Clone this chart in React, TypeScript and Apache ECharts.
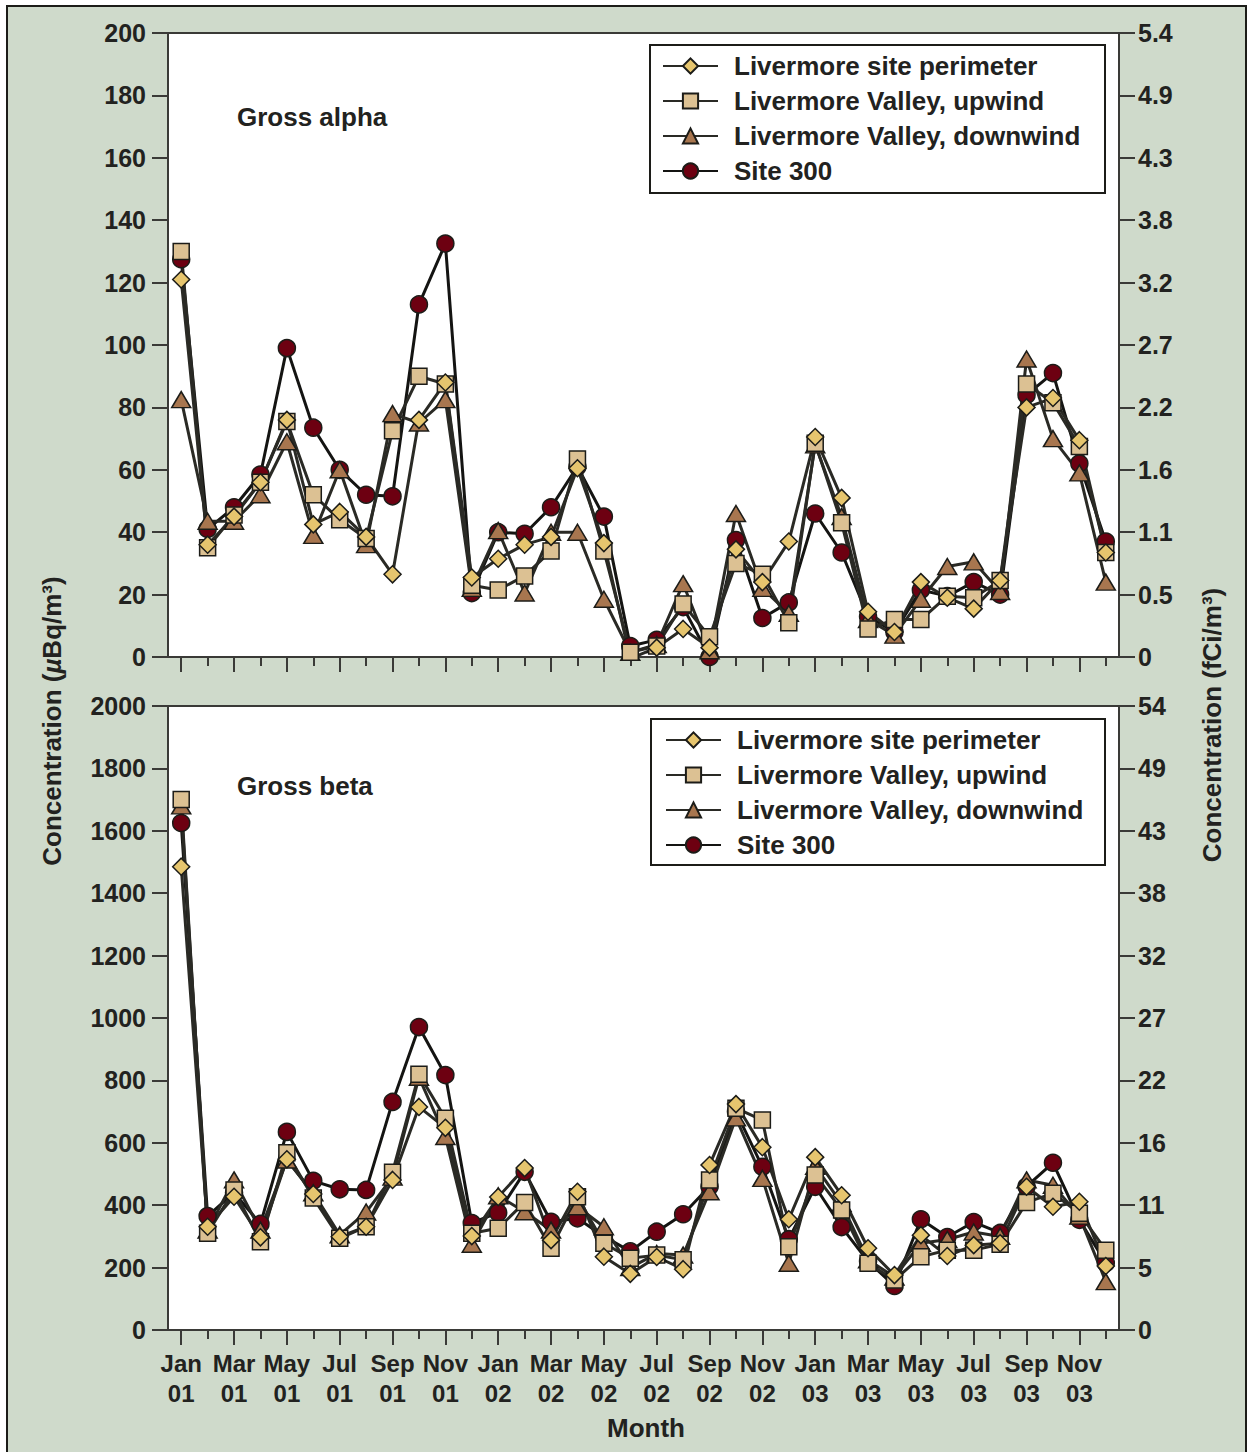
import React, { useEffect, useRef } from 'react';
import * as echarts from 'echarts';

const months = [
  'Jan 01', 'Feb 01', 'Mar 01', 'Apr 01', 'May 01', 'Jun 01', 'Jul 01', 'Aug 01', 'Sep 01', 'Oct 01', 'Nov 01', 'Dec 01',
  'Jan 02', 'Feb 02', 'Mar 02', 'Apr 02', 'May 02', 'Jun 02', 'Jul 02', 'Aug 02', 'Sep 02', 'Oct 02', 'Nov 02', 'Dec 02',
  'Jan 03', 'Feb 03', 'Mar 03', 'Apr 03', 'May 03', 'Jun 03', 'Jul 03', 'Aug 03', 'Sep 03', 'Oct 03', 'Nov 03', 'Dec 03',
];

const seriesNames = [
  'Livermore site perimeter',
  'Livermore Valley, upwind',
  'Livermore Valley, downwind',
  'Site 300',
];

// Gross alpha (µBq/m³)
const alphaPerimeter = [121, 36, 45, 56, 76, 42.5, 46.5, 38.5, 26.5, 76, 88, 25.5, 31.5, 36, 38.5, 60.5, 36.5, -0.5, 3, 9, 3, 34.5, 24, 37, 70.5, 51, 14.5, 8, 24, 19, 15.5, 24.5, 80, 83, 69.5, 33.5];
const alphaUpwind = [130, 35, 45.5, 56, 75.5, 52, 44, 38, 72.5, 90, 87.5, 23, 21.5, 26, 34, 63.5, 34, 1.5, 3.5, 17, 6.5, 30, 26.5, 11, 68.5, 43, 9, 12, 12, 19.5, 19, 24.5, 87.5, 81.5, 67.5, 33.5];
const alphaDownwind = [82.5, 43.5, 43.5, 52, 69, 39, 60, 36, 78, 75, 82.5, 22, 40.5, 20.5, 40, 40, 18.5, 1.5, 4, 23.5, 2, 46, 22, 14, 68, 45, 12, 7, 18.5, 29, 30.5, 21, 95.5, 70, 59, 24];
const alphaSite300 = [127.5, 41, 48, 58.5, 99, 73.5, 60, 52, 51.5, 113, 132.5, 20.5, 40, 39.5, 48, 61, 45, 3.5, 5.5, 16, 0, 37.5, 12.5, 17.5, 46, 33.5, 13, 8, 21.5, 19.5, 24, 20, 84, 91, 62, 37];

// Gross beta (µBq/m³)
const betaPerimeter = [1485, 331, 427, 297, 547, 436, 299, 331, 481, 715, 648, 301, 426, 519, 288, 443, 235, 180, 234, 195, 529, 724, 586, 355, 554, 432, 262, 176, 304, 237, 272, 278, 459, 395, 411, 205];
const betaUpwind = [1700, 310, 449, 283, 568, 423, 294, 331, 506, 820, 679, 310, 326, 409, 262, 427, 278, 230, 240, 225, 481, 711, 673, 267, 497, 385, 214, 160, 235, 256, 256, 275, 409, 438, 374, 256];
const betaDownwind = [1680, 320, 481, 320, 545, 440, 305, 378, 490, 810, 620, 275, 430, 379, 320, 395, 331, 200, 245, 240, 443, 680, 486, 214, 525, 405, 225, 170, 278, 290, 314, 300, 481, 464, 365, 155];
const betaSite300 = [1625, 365, 440, 340, 635, 478, 451, 449, 731, 971, 817, 343, 376, 507, 347, 358, 300, 252, 315, 371, 460, 700, 523, 291, 459, 330, 220, 141, 355, 298, 346, 311, 460, 536, 353, 215];

// Right-hand (fCi/m³) tick labels
const alphaRightLabels = ['0', '0.5', '1.1', '1.6', '2.2', '2.7', '3.2', '3.8', '4.3', '4.9', '5.4'];
const betaRightLabels = ['0', '5', '11', '16', '22', '27', '32', '38', '43', '49', '54'];

const FONT = '"Liberation Sans", Arial, Helvetica, sans-serif';
const TXT = '#222220';
const AX = '#3a3a37';
const LINE = '#2a2a25';
const EDGE = '#1c1c18';

const marks = [
  { symbol: 'diamond', size: 17, fill: '#e6c56e' },
  { symbol: 'rect', size: 16, fill: '#dcc193' },
  { symbol: 'triangle', size: [19, 16], fill: '#a8764f' },
  { symbol: 'circle', size: 17, fill: '#6d0011' },
];

function makeSeries(values: number[][], xIdx: number, yIdx: number) {
  // draw order: circle, triangle, square, diamond (diamond on top)
  const order = [3, 2, 1, 0];
  return order.map((k) => ({
    type: 'line',
    name: seriesNames[k],
    data: values[k],
    xAxisIndex: xIdx,
    yAxisIndex: yIdx,
    symbol: marks[k].symbol,
    symbolSize: marks[k].size,
    showAllSymbol: true,
    lineStyle: { color: k === 3 ? '#141412' : LINE, width: 3 },
    itemStyle: { color: marks[k].fill, borderColor: EDGE, borderWidth: 1.5 },
    emphasis: { disabled: true },
  }));
}

function leftY(grid: number, max: number, interval: number) {
  return {
    type: 'value',
    gridIndex: grid,
    position: 'left',
    min: 0,
    max,
    interval,
    axisLine: { show: true, lineStyle: { color: AX, width: 2 } },
    axisTick: { show: true, length: 16, lineStyle: { color: AX, width: 2 } },
    axisLabel: {
      margin: 22,
      fontSize: 25,
      fontWeight: 'bold',
      fontFamily: FONT,
      color: TXT,
      formatter: (v: number) => String(v),
    },
    splitLine: { show: false },
  };
}

function rightY(grid: number, max: number, interval: number, labels: string[]) {
  return {
    type: 'value',
    gridIndex: grid,
    position: 'right',
    min: 0,
    max,
    interval,
    axisLine: { show: true, lineStyle: { color: AX, width: 2 } },
    axisTick: { show: true, length: 16, lineStyle: { color: AX, width: 2 } },
    axisLabel: {
      margin: 19,
      fontSize: 25,
      fontWeight: 'bold',
      fontFamily: FONT,
      color: TXT,
      formatter: (v: number) => labels[Math.round(v / interval)] ?? '',
    },
    splitLine: { show: false },
  };
}

function longTickX(grid: number, withLabels: boolean) {
  return {
    type: 'category',
    gridIndex: grid,
    data: months,
    boundaryGap: true,
    axisLine: { show: true, lineStyle: { color: AX, width: 2 } },
    axisTick: { show: true, alignWithLabel: true, interval: 1, length: 15, lineStyle: { color: AX, width: 2 } },
    axisLabel: withLabels
      ? {
          show: true,
          interval: 1,
          margin: 18,
          fontSize: 24,
          lineHeight: 30,
          fontWeight: 'bold',
          fontFamily: FONT,
          color: TXT,
          formatter: (v: string) => v.replace(' ', '\n'),
        }
      : { show: false },
    splitLine: { show: false },
  };
}

function shortTickX(grid: number) {
  return {
    type: 'category',
    gridIndex: grid,
    data: months,
    boundaryGap: true,
    axisLine: { show: false },
    axisTick: { show: true, alignWithLabel: true, interval: 0, length: 9, lineStyle: { color: AX, width: 2 } },
    axisLabel: { show: false },
    splitLine: { show: false },
  };
}

function legend(left: number, top: number) {
  return {
    orient: 'vertical',
    left,
    top,
    padding: 0,
    itemWidth: 55,
    itemHeight: 19,
    itemGap: 9,
    selectedMode: false,
    data: seriesNames,
    textStyle: {
      fontSize: 26,
      lineHeight: 26,
      fontWeight: 'bold',
      fontFamily: FONT,
      color: TXT,
      padding: [0, 0, 0, 11],
    },
  };
}

export default function App() {
  const ref = useRef<HTMLDivElement>(null);

  useEffect(() => {
    if (!ref.current) return;
    const chart = echarts.init(ref.current, undefined, { renderer: 'svg' });
    const gridBase = { left: 168, width: 951, height: 624 };
    const option: any = {
      animation: false,
      backgroundColor: 'transparent',
      grid: [
        { ...gridBase, top: 33, show: true, backgroundColor: '#ffffff', borderColor: AX, borderWidth: 2 },
        { ...gridBase, top: 706, show: true, backgroundColor: '#ffffff', borderColor: AX, borderWidth: 2 },
        { ...gridBase, top: 33, show: false },
        { ...gridBase, top: 706, show: false },
      ],
      xAxis: [longTickX(0, false), longTickX(1, true), shortTickX(2), shortTickX(3)],
      yAxis: [
        leftY(0, 200, 20),
        rightY(0, 200, 20, alphaRightLabels),
        leftY(1, 2000, 200),
        rightY(1, 2000, 200, betaRightLabels),
        { type: 'value', gridIndex: 2, show: false, min: 0, max: 1 },
        { type: 'value', gridIndex: 3, show: false, min: 0, max: 1 },
      ],
      legend: [legend(662, 53), legend(665, 727)],
      series: [
        ...makeSeries([alphaPerimeter, alphaUpwind, alphaDownwind, alphaSite300], 0, 0),
        ...makeSeries([betaPerimeter, betaUpwind, betaDownwind, betaSite300], 1, 2),
      ],
      graphic: [
        {
          type: 'rect',
          z: 3,
          shape: { x: 650, y: 45, width: 455, height: 148 },
          style: { fill: '#ffffff', stroke: EDGE, lineWidth: 2 },
          silent: true,
        },
        {
          type: 'rect',
          z: 3,
          shape: { x: 651, y: 719, width: 454, height: 146 },
          style: { fill: '#ffffff', stroke: EDGE, lineWidth: 2 },
          silent: true,
        },
        {
          type: 'text',
          x: 237,
          y: 117,
          z: 5,
          style: { text: 'Gross alpha', fontSize: 26, fontWeight: 'bold', fontFamily: FONT, fill: TXT, verticalAlign: 'middle' },
        },
        {
          type: 'text',
          x: 237,
          y: 786,
          z: 5,
          style: { text: 'Gross beta', fontSize: 26, fontWeight: 'bold', fontFamily: FONT, fill: TXT, verticalAlign: 'middle' },
        },
        {
          type: 'text',
          x: 52,
          y: 721,
          rotation: Math.PI / 2,
          z: 5,
          style: {
            text: '{a|Concentration (}{b|µ}{a|Bq/m³)}',
            align: 'center',
            verticalAlign: 'middle',
            rich: {
              a: { fontSize: 26, fontWeight: 'bold', fontFamily: FONT, fill: TXT, color: TXT },
              b: { fontSize: 26, fontWeight: 'bold', fontStyle: 'italic', fontFamily: FONT, fill: TXT, color: TXT },
            },
          },
        },
        {
          type: 'text',
          x: 1212,
          y: 725,
          rotation: Math.PI / 2,
          z: 5,
          style: {
            text: 'Concentration (fCi/m³)',
            align: 'center',
            verticalAlign: 'middle',
            fontSize: 26,
            fontWeight: 'bold',
            fontFamily: FONT,
            fill: TXT,
          },
        },
        {
          type: 'text',
          x: 646,
          y: 1428,
          z: 5,
          style: {
            text: 'Month',
            align: 'center',
            verticalAlign: 'middle',
            fontSize: 26,
            fontWeight: 'bold',
            fontFamily: FONT,
            fill: TXT,
          },
        },
      ],
    };
    chart.setOption(option);
    return () => chart.dispose();
  }, []);

  return (
    <div style={{ position: 'absolute', left: 0, top: 0, width: 1254, height: 1452, background: '#ffffff', overflow: 'hidden' }}>
      <div
        style={{
          position: 'absolute',
          left: 6,
          top: 5,
          width: 1241,
          height: 1470,
          background: '#cfdacb',
          border: '2px solid #1c1c18',
          boxSizing: 'border-box',
        }}
      />
      <div ref={ref} style={{ position: 'absolute', left: 0, top: 0, width: 1254, height: 1452 }} />
    </div>
  );
}
